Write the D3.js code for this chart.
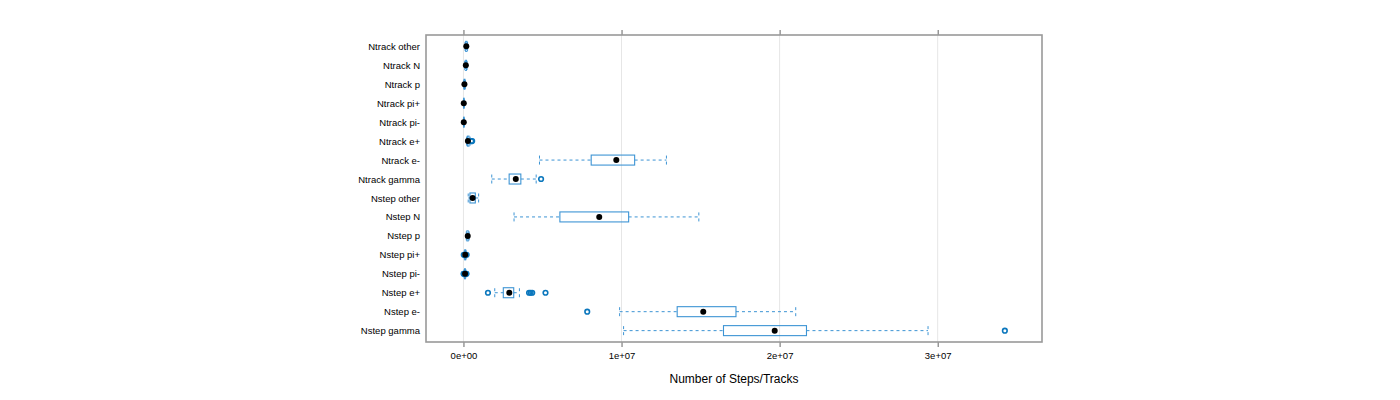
<!DOCTYPE html>
<html>
<head>
<meta charset="utf-8">
<script src="https://cdn.jsdelivr.net/npm/d3@7"></script>
<style>
  html, body { margin: 0; padding: 0; background: #fff; }
  svg { display: block; }
  text { font-family: "Liberation Sans", Arial, Helvetica, sans-serif; fill: #000; }
</style>
</head>
<body>
<svg id="chart" width="1400" height="400"></svg>
<script>
// Categories, top to bottom
const categories = [
  "Ntrack other", "Ntrack N", "Ntrack p", "Ntrack pi+", "Ntrack pi-",
  "Ntrack e+", "Ntrack e-", "Ntrack gamma",
  "Nstep other", "Nstep N", "Nstep p", "Nstep pi+", "Nstep pi-",
  "Nstep e+", "Nstep e-", "Nstep gamma"
];
// Box statistics
const whiskerLow = [1.0e5, 0.8e5, 0.2e5, 0, 0, 2.0e5, 4.81e6, 1.79e6, 3.0e5, 3.20e6, 1.8e5, 0.5e5, 0.4e5, 1.98e6, 9.88e6, 10.13e6];
const q1         = [1.4e5, 1.2e5, 0.4e5, 0.1e5, 0.1e5, 2.5e5, 8.08e6, 2.89e6, 4.1e5, 6.10e6, 2.2e5, 0.8e5, 0.7e5, 2.52e6, 13.52e6, 16.45e6];
const median     = [1.8e5, 1.5e5, 0.6e5, 0.2e5, 0.2e5, 2.8e5, 9.67e6, 3.31e6, 5.8e5, 8.59e6, 2.7e5, 1.1e5, 1.0e5, 2.90e6, 15.17e6, 19.69e6];
const q3         = [2.2e5, 1.9e5, 0.9e5, 0.3e5, 0.3e5, 3.5e5, 10.83e6, 3.63e6, 7.5e5, 10.45e6, 3.0e5, 1.4e5, 1.2e5, 3.18e6, 17.24e6, 21.70e6];
const whiskerHigh= [2.6e5, 2.3e5, 1.2e5, 0.5e5, 0.5e5, 4.2e5, 12.84e6, 4.60e6, 9.6e5, 14.89e6, 3.6e5, 1.7e5, 1.5e5, 3.54e6, 21.02e6, 29.39e6];
const outliers   = [[], [], [], [], [], [5.0e5, 5.5e5], [], [4.91e6], [], [], [], [0.2e5, 2.0e5], [0.1e5, 0.3e5, 1.7e5, 1.9e5], [1.55e6, 4.15e6, 4.25e6, 4.35e6, 5.19e6], [7.83e6], [34.25e6]];
// Axis ticks
const tickValues = [0, 1e7, 2e7, 3e7];
const tickLabels = ["0e+00", "1e+07", "2e+07", "3e+07"];
const xTitle = "Number of Steps/Tracks";

const svg = d3.select("#chart");
const pLeft = 426, pRight = 1042, pTop = 35, pBottom = 342;

const x = d3.scaleLinear().domain([-2.37e6, 36.6e6]).range([pLeft, pRight]);
const y = d3.scalePoint().domain(categories).range([pTop, pBottom]).padding(0.6);

const boxColor = "#3d94d4";
const dotColor = "#0b77bd";
const halfBox = 5;

// grid lines
svg.append("g").selectAll("line").data(tickValues).join("line")
  .attr("x1", d => x(d)).attr("x2", d => x(d))
  .attr("y1", pTop).attr("y2", pBottom)
  .attr("stroke", "#e6e6e6").attr("stroke-width", 1);

// bottom axis
const xAxis = d3.axisBottom(x).tickValues(tickValues)
  .tickFormat((d, i) => tickLabels[i]).tickSize(5).tickPadding(5);
const gx = svg.append("g").attr("transform", `translate(0,${pBottom})`).call(xAxis);
gx.select(".domain").remove();
gx.selectAll("line").attr("stroke", "#666");
gx.selectAll("text").attr("font-size", "9.5px").attr("font-family", "Liberation Sans, Arial, sans-serif").attr("fill", "#000");

// top axis ticks (no labels)
const xTop = d3.axisTop(x).tickValues(tickValues).tickFormat("").tickSize(5);
const gt = svg.append("g").attr("transform", `translate(0,${pTop})`).call(xTop);
gt.select(".domain").remove();
gt.selectAll("line").attr("stroke", "#666");

// left labels
const yAxis = d3.axisLeft(y).tickSize(0).tickPadding(6);
const gy = svg.append("g").attr("transform", `translate(${pLeft},0)`).call(yAxis);
gy.select(".domain").remove();
gy.selectAll("text").attr("font-size", "9.5px").attr("font-family", "Liberation Sans, Arial, sans-serif").attr("fill", "#000");

// boxes
const rows = categories.map((c, i) => ({c, i}));
const g = svg.append("g");
rows.forEach(({c, i}) => {
  const cy = y(c);
  const dash = "3,3";
  // whiskers
  g.append("line").attr("x1", x(whiskerLow[i])).attr("x2", x(q1[i]))
    .attr("y1", cy).attr("y2", cy).attr("stroke", boxColor).attr("stroke-dasharray", dash);
  g.append("line").attr("x1", x(q3[i])).attr("x2", x(whiskerHigh[i]))
    .attr("y1", cy).attr("y2", cy).attr("stroke", boxColor).attr("stroke-dasharray", dash);
  // staples
  [whiskerLow[i], whiskerHigh[i]].forEach(v => {
    g.append("line").attr("x1", x(v)).attr("x2", x(v))
      .attr("y1", cy - halfBox + 0.5).attr("y2", cy + halfBox - 0.5)
      .attr("stroke", boxColor).attr("stroke-dasharray", dash);
  });
  // box
  g.append("rect").attr("x", x(q1[i])).attr("y", cy - halfBox)
    .attr("width", Math.max(0.5, x(q3[i]) - x(q1[i]))).attr("height", 2 * halfBox)
    .attr("fill", "none").attr("stroke", boxColor).attr("stroke-width", 1.1);
  // outliers
  outliers[i].forEach(v => {
    g.append("circle").attr("cx", x(v)).attr("cy", cy).attr("r", 2.3)
      .attr("fill", "none").attr("stroke", dotColor).attr("stroke-width", 1.6);
  });
  // median dot
  g.append("circle").attr("cx", x(median[i])).attr("cy", cy).attr("r", 3)
    .attr("fill", "#000");
});

// frame
svg.append("rect").attr("x", pLeft).attr("y", pTop)
  .attr("width", pRight - pLeft).attr("height", pBottom - pTop)
  .attr("fill", "none").attr("stroke", "#999").attr("stroke-width", 1.6);

// x title
svg.append("text").attr("x", (pLeft + pRight) / 2).attr("y", 383)
  .attr("text-anchor", "middle").attr("font-size", "12px").text(xTitle);
</script>
</body>
</html>
